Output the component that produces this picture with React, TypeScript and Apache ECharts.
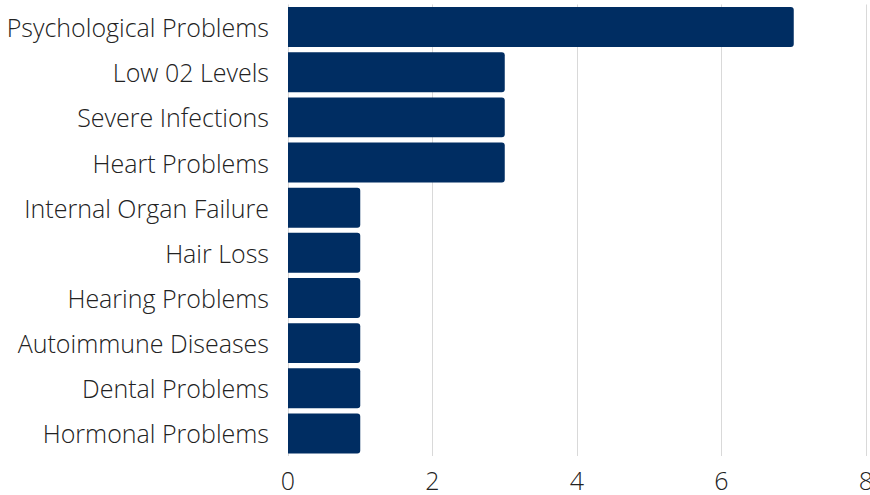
import React, { useEffect, useRef } from "react";
import * as echarts from "echarts";

const categories = [
  "Psychological Problems",
  "Low 02 Levels",
  "Severe Infections",
  "Heart Problems",
  "Internal Organ Failure",
  "Hair Loss",
  "Hearing Problems",
  "Autoimmune Diseases",
  "Dental Problems",
  "Hormonal Problems",
];
const values = [7, 3, 3, 3, 1, 1, 1, 1, 1, 1];
const xTicks = { min: 0, max: 8, interval: 2 };

export default function App() {
  const ref = useRef<HTMLDivElement>(null);
  useEffect(() => {
    if (!ref.current) return;
    const chart = echarts.init(ref.current, null, { renderer: "svg" });
    chart.setOption({
      animation: false,
      grid: {
        left: 288,
        right: 4,
        top: 4.5,
        bottom: 39,
        containLabel: false,
        outerBoundsMode: "none",
      },
      xAxis: {
        type: "value",
        min: xTicks.min,
        max: xTicks.max,
        interval: xTicks.interval,
        axisLine: { show: false },
        axisTick: { show: false },
        splitLine: { show: true, lineStyle: { color: "#d9d9d9", width: 1 } },
        axisLabel: {
          fontFamily: "Open Sans",
          fontWeight: 300,
          fontSize: 25,
          color: "#222",
          margin: 11,
        },
      },
      yAxis: {
        type: "category",
        data: categories,
        inverse: true,
        axisLine: { show: false },
        axisTick: { show: false },
        axisLabel: {
          fontFamily: "Open Sans",
          fontWeight: 300,
          fontSize: 25,
          color: "#222",
          margin: 19,
        },
      },
      series: [
        {
          type: "bar",
          data: values,
          barCategoryGap: "11.5%",
          itemStyle: { color: "#002d62", borderRadius: [0, 3, 3, 0] },
        },
      ],
    });
    return () => chart.dispose();
  }, []);
  return (
    <div
      ref={ref}
      style={{ position: "fixed", left: 0, top: 0, width: 870, height: 495, background: "#fff" }}
    />
  );
}
